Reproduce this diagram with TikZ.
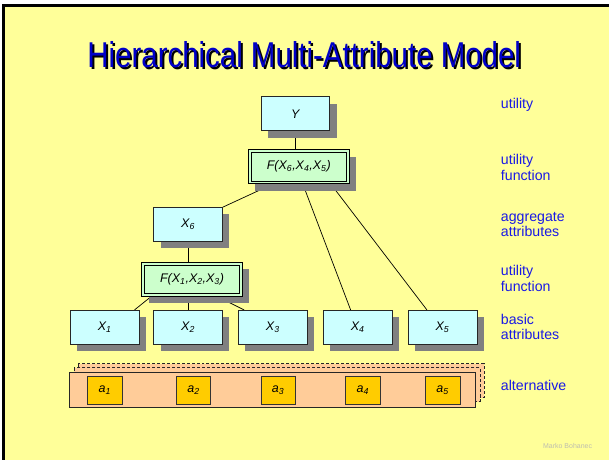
\documentclass[tikz,border=0pt]{standalone}
\usepackage{fontspec}
\setmainfont{Liberation Sans}
\newfontfamily\titlefont[FakeStretch=0.82]{Liberation Sans}
\usetikzlibrary{shadows}
\definecolor{bgyellow}{HTML}{FFFF99}
\definecolor{attrcyan}{HTML}{CCFFFF}
\definecolor{funcgreen}{HTML}{CCFFCC}
\definecolor{shadowgray}{HTML}{808080}
\definecolor{barpeach}{HTML}{FFCC99}
\definecolor{altgold}{HTML}{FFCC00}
\definecolor{labelblue}{RGB}{25,25,230}
\definecolor{titleblue}{RGB}{0,0,200}
\definecolor{footgray}{RGB}{190,190,175}
\newcommand\sbx[1]{\textsubscript{#1}}
% text with a dark drop shadow behind it
\newcommand\shadowtext[1]{\makebox[0pt][l]{\hspace{2pt}\raisebox{-2pt}{\color{black}#1}}#1}
\pgfdeclarelayer{bg}
\pgfdeclarelayer{links}
\pgfsetlayers{bg,links,main}
\begin{document}
\begin{tikzpicture}[x=1pt,y=-1pt,
  boxshadow/.style={drop shadow={shadow xshift=7pt,shadow yshift=-7pt,fill=shadowgray,opacity=1}},
  boxfont/.style={font=\fontsize{12.5}{14}\selectfont\itshape},
  attr/.style={draw=black!85, line width=0.6pt, fill=attrcyan, boxshadow,
    minimum width=69pt, minimum height=34pt, inner sep=0pt, boxfont},
  func/.style={draw=black, line width=0.6pt, fill=funcgreen, boxshadow,
    minimum width=101pt, minimum height=34pt, inner sep=0pt, boxfont},
  funcinner/.style={draw=black, line width=0.6pt,
    minimum width=95.5pt, minimum height=28.5pt, inner sep=0pt},
  alt/.style={draw=black!80, line width=0.6pt, fill=altgold,
    minimum width=34.5pt, minimum height=28pt, inner sep=0pt, boxfont},
  layer/.style={draw=black!85, line width=0.6pt, fill=barpeach, dash pattern=on 3pt off 2pt},
  conn/.style={draw=black, line width=0.7pt},
  lbl/.style={anchor=west, align=left, text=labelblue, inner sep=0pt,
    font=\fontsize{14.2}{15.5}\selectfont},
  titletext/.style={anchor=base, inner sep=0pt, font=\titlefont\fontsize{36}{40}\selectfont}
]
% page
\begin{pgfonlayer}{bg}
  \fill[white] (0,0) rectangle (610,461);
  \fill[bgyellow] (3.5,5.5) rectangle (610,461);
  \draw[black, line width=3pt] (3.5,461) -- (3.5,5.5) -- (610,5.5);
\end{pgfonlayer}

% title
\node[titletext, text=titleblue] (title) at (305,68) {\shadowtext{Hierarchical Multi-Attribute Model}};

% hierarchy
\node[attr] (Y)  at (296,114)   {Y};
\node[func] (F)  at (299.5,167) {F(X\sbx{6},X\sbx{4},X\sbx{5})};
\node[funcinner] (F-in) at (F.center) {};
\node[attr] (X6) at (188.5,225) {X\sbx{6}};
\node[func] (F1) at (192.5,280) {F(X\sbx{1},X\sbx{2},X\sbx{3})};
\node[funcinner] (F1-in) at (F1.center) {};
\node[attr] (X1) at (105,328)   {X\sbx{1}};
\node[attr] (X2) at (188.5,328) {X\sbx{2}};
\node[attr] (X3) at (273.5,328) {X\sbx{3}};
\node[attr] (X4) at (358.5,328) {X\sbx{4}};
\node[attr] (X5) at (443.5,328) {X\sbx{5}};

\begin{pgfonlayer}{links}
  \draw[conn] (Y.south) -- (Y.south |- F.north);
  \draw[conn] ([xshift=-25.5pt]F.south) -- (X6.north east);
  \draw[conn] ([xshift=4pt]F.south) -- ([xshift=-7pt]X4.north);
  \draw[conn] ([xshift=32pt]F.south) -- ([xshift=-15.5pt]X5.north);
  \draw[conn] (X6.south) -- (X6.south |- F1.north);
  \draw[conn] ([xshift=-41pt]F1.south) -- ([xshift=-5pt]X1.north east);
  \draw[conn] (X2.north) -- (X2.north |- F1.south);
  \draw[conn] ([xshift=25.5pt]F1.south) -- ([xshift=6pt]X3.north west);
\end{pgfonlayer}

% stacked alternatives
\draw[layer] (78,364.5) rectangle (485,398.5);
\draw[layer] (74.5,368.5) rectangle (481,402.5);
\node[draw=black!85, line width=0.6pt, fill=barpeach, anchor=north west,
  minimum width=407pt, minimum height=35pt, inner sep=0pt] (bar) at (69,373) {};
\node[alt] (a1) at (105,391)   {a\sbx{1}};
\node[alt] (a2) at (194,391)   {a\sbx{2}};
\node[alt] (a3) at (278.7,391) {a\sbx{3}};
\node[alt] (a4) at (363.7,391) {a\sbx{4}};
\node[alt] (a5) at (443.7,391) {a\sbx{5}};

% level captions
\node[lbl] (lu)  at (502,105) {utility};
\node[lbl] (luf) at (502,168) {utility\\function};
\node[lbl] (lag) at (502,225) {aggregate\\attributes};
\node[lbl] (luf2) at (502,279) {utility\\function};
\node[lbl] (lba) at (502,328) {basic\\attributes};
\node[lbl] (lal) at (502,386) {alternative};

\node[text=footgray, inner sep=0pt, font=\fontsize{7}{8}\selectfont] (foot) at (569,447) {Marko Bohanec};
\end{tikzpicture}
\end{document}
